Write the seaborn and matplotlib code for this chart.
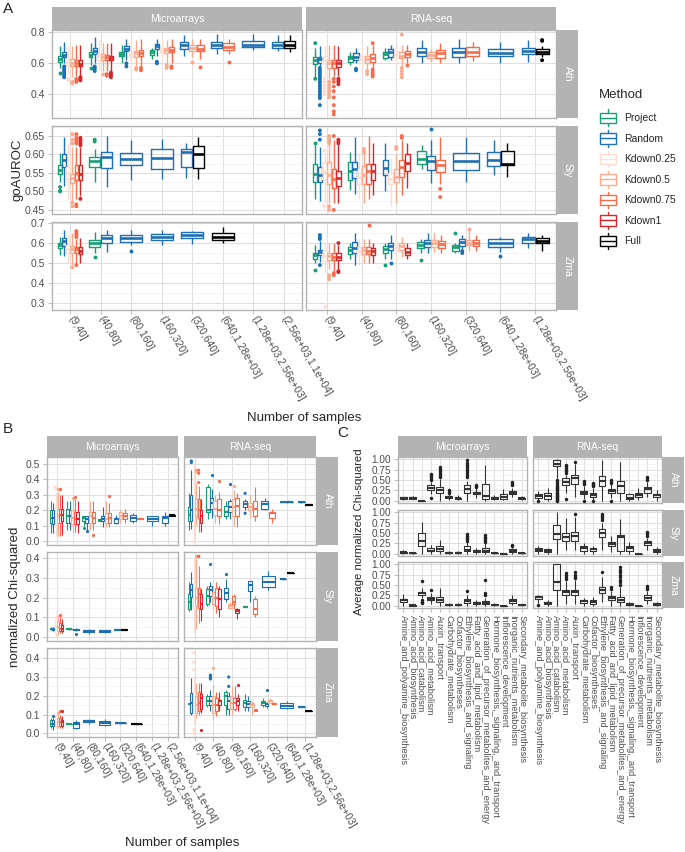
import pandas as pd
import matplotlib
matplotlib.use("Agg")
import matplotlib.pyplot as plt
import seaborn as sns
from matplotlib.lines import Line2D
from matplotlib.patches import Rectangle, Patch
from matplotlib.legend_handler import HandlerBase
from matplotlib.ticker import MultipleLocator, FormatStrFormatter

# ---------------------------------------------------------------- data
METHODS = ["Project", "Random", "Kdown0.25", "Kdown0.5", "Kdown0.75", "Kdown1", "Full"]
METHOD_COLORS = ["#169E75", "#1F6FB5", "#FDDDD0", "#FCAA8E", "#F96A4A", "#D7262B", "#000000"]
SPECIES = ["Ath", "Sly", "Zma"]
PLATFORMS = ["Microarrays", "RNA-seq"]
MICRO_BINS = ["(9,40]", "(40,80]", "(80,160]", "(160,320]", "(320,640]",
              "(640,1.28e+03]", "(1.28e+03,2.56e+03]", "(2.56e+03,1.1e+04]"]
RNA_BINS = ["(9,40]", "(40,80]", "(80,160]", "(160,320]", "(320,640]",
            "(640,1.28e+03]", "(1.28e+03,2.56e+03]"]
PATHWAYS = ["Amine_and_polyamine_biosynthesis", "Amino_acid_biosynthesis",
            "Amino_acid_catabolism", "Amino_acid_metabolism", "Auxin_transport",
            "Carbohydrate_metabolism", "Cofactor_biosyntheses",
            "Ethylene_biosynthesis_and_signaling", "Fatty_acid_and_lipid_metabolism",
            "Generation_of_precursor_metabolites_and_energy",
            "Hormone_biosynthesis,_signaling,_and_transport", "Inflorescence_development",
            "Inorganic_nutrients_metabolism", "Secondary_metabolite_biosynthesis"]

# (bin, method, whisker_low, q1, median, q3, whisker_high, outliers)
A_MICRO_ATH = [
    ("(9,40]", "Project", 0.57, 0.61, 0.625, 0.645, 0.71, [0.54]),
    ("(9,40]", "Random", 0.60, 0.64, 0.655, 0.675, 0.74, [0.58, 0.57, 0.56, 0.55, 0.54, 0.53, 0.52, 0.51]),
    ("(9,40]", "Kdown0.25", 0.53, 0.59, 0.61, 0.63, 0.71, [0.50, 0.49]),
    ("(9,40]", "Kdown0.5", 0.51, 0.585, 0.605, 0.625, 0.71, [0.48, 0.47]),
    ("(9,40]", "Kdown0.75", 0.52, 0.58, 0.60, 0.62, 0.72, [0.50, 0.49, 0.48]),
    ("(9,40]", "Kdown1", 0.52, 0.58, 0.595, 0.62, 0.72, [0.51, 0.50, 0.49]),
    ("(40,80]", "Project", 0.59, 0.64, 0.655, 0.67, 0.73, [0.57]),
    ("(40,80]", "Random", 0.60, 0.66, 0.68, 0.70, 0.77, [0.58, 0.57, 0.56, 0.55]),
    ("(40,80]", "Kdown0.25", 0.56, 0.62, 0.645, 0.66, 0.75, []),
    ("(40,80]", "Kdown0.5", 0.55, 0.62, 0.64, 0.66, 0.73, [0.53]),
    ("(40,80]", "Kdown0.75", 0.55, 0.62, 0.64, 0.655, 0.73, [0.53, 0.52]),
    ("(40,80]", "Kdown1", 0.55, 0.62, 0.635, 0.65, 0.73, [0.54, 0.53, 0.52, 0.51]),
    ("(80,160]", "Project", 0.60, 0.65, 0.66, 0.675, 0.72, []),
    ("(80,160]", "Random", 0.62, 0.68, 0.695, 0.71, 0.76, [0.60, 0.58]),
    ("(80,160]", "Kdown0.25", 0.57, 0.64, 0.66, 0.68, 0.76, []),
    ("(80,160]", "Kdown0.5", 0.58, 0.64, 0.665, 0.68, 0.75, [0.57, 0.56]),
    ("(80,160]", "Kdown0.75", 0.58, 0.645, 0.665, 0.685, 0.76, [0.57, 0.555]),
    ("(160,320]", "Project", 0.63, 0.655, 0.67, 0.685, 0.70, []),
    ("(160,320]", "Random", 0.65, 0.69, 0.71, 0.725, 0.76, [0.61, 0.60]),
    ("(160,320]", "Kdown0.25", 0.62, 0.67, 0.685, 0.70, 0.75, []),
    ("(160,320]", "Kdown0.5", 0.60, 0.665, 0.685, 0.70, 0.75, [0.59, 0.58, 0.57]),
    ("(160,320]", "Kdown0.75", 0.60, 0.67, 0.685, 0.705, 0.76, [0.58, 0.57]),
    ("(320,640]", "Random", 0.65, 0.695, 0.715, 0.735, 0.78, []),
    ("(320,640]", "Kdown0.5", 0.64, 0.68, 0.70, 0.72, 0.76, [0.61]),
    ("(320,640]", "Kdown0.75", 0.625, 0.68, 0.695, 0.72, 0.76, [0.575]),
    ("(640,1.28e+03]", "Random", 0.66, 0.70, 0.715, 0.74, 0.79, []),
    ("(640,1.28e+03]", "Kdown0.75", 0.66, 0.685, 0.705, 0.73, 0.76, [0.61]),
    ("(1.28e+03,2.56e+03]", "Random", 0.685, 0.705, 0.72, 0.745, 0.79, []),
    ("(2.56e+03,1.1e+04]", "Random", 0.68, 0.70, 0.72, 0.74, 0.78, []),
    ("(2.56e+03,1.1e+04]", "Full", 0.675, 0.70, 0.72, 0.745, 0.78, []),
]
A_MICRO_SLY = [
    ("(9,40]", "Project", 0.525, 0.548, 0.559, 0.571, 0.603, [0.512, 0.502, 0.50]),
    ("(9,40]", "Random", 0.516, 0.566, 0.585, 0.601, 0.648, []),
    ("(9,40]", "Kdown0.25", 0.48, 0.535, 0.55, 0.565, 0.63, []),
    ("(9,40]", "Kdown0.5", 0.475, 0.523, 0.536, 0.548, 0.62, [0.63, 0.64, 0.655, 0.47, 0.46]),
    ("(9,40]", "Kdown0.75", 0.48, 0.53, 0.55, 0.571, 0.62, [0.63, 0.635, 0.64, 0.645, 0.655, 0.465, 0.46]),
    ("(9,40]", "Kdown1", 0.487, 0.53, 0.548, 0.571, 0.62, [0.625, 0.63, 0.635, 0.64, 0.645, 0.48]),
    ("(40,80]", "Project", 0.525, 0.565, 0.583, 0.594, 0.616, [0.64, 0.635]),
    ("(40,80]", "Random", 0.513, 0.564, 0.594, 0.607, 0.65, []),
    ("(80,160]", "Random", 0.53, 0.571, 0.588, 0.605, 0.639, []),
    ("(160,320]", "Random", 0.535, 0.562, 0.59, 0.615, 0.641, []),
    ("(320,640]", "Random", 0.537, 0.566, 0.607, 0.615, 0.63, []),
    ("(320,640]", "Full", 0.535, 0.564, 0.60, 0.623, 0.646, []),
]
A_MICRO_ZMA = [
    ("(9,40]", "Project", 0.541, 0.574, 0.59, 0.602, 0.628, []),
    ("(9,40]", "Random", 0.533, 0.585, 0.611, 0.623, 0.667, []),
    ("(9,40]", "Kdown0.25", 0.50, 0.55, 0.57, 0.59, 0.64, []),
    ("(9,40]", "Kdown0.5", 0.49, 0.549, 0.569, 0.585, 0.65, [0.48]),
    ("(9,40]", "Kdown0.75", 0.50, 0.549, 0.569, 0.582, 0.62, [0.63, 0.64, 0.65, 0.66, 0.49]),
    ("(9,40]", "Kdown1", 0.50, 0.546, 0.562, 0.579, 0.625, []),
    ("(40,80]", "Project", 0.55, 0.579, 0.598, 0.615, 0.655, [0.528]),
    ("(40,80]", "Random", 0.553, 0.60, 0.623, 0.64, 0.667, []),
    ("(80,160]", "Random", 0.59, 0.607, 0.626, 0.64, 0.667, [0.562]),
    ("(160,320]", "Random", 0.588, 0.615, 0.631, 0.644, 0.663, []),
    ("(320,640]", "Random", 0.594, 0.623, 0.64, 0.656, 0.66, []),
    ("(640,1.28e+03]", "Full", 0.60, 0.615, 0.631, 0.648, 0.678, []),
]
A_RNA_ATH = [
    ("(9,40]", "Project", 0.514, 0.596, 0.621, 0.639, 0.697, [0.73, 0.50]),
    ("(9,40]", "Random", 0.585, 0.60, 0.628, 0.643, 0.71,
     [0.57, 0.555, 0.54, 0.525, 0.51, 0.495, 0.48, 0.465, 0.45, 0.435, 0.42, 0.405, 0.39, 0.375, 0.33]),
    ("(9,40]", "Kdown0.25", 0.52, 0.60, 0.62, 0.64, 0.72, [0.50, 0.48, 0.46, 0.44, 0.42, 0.40]),
    ("(9,40]", "Kdown0.5", 0.50, 0.572, 0.60, 0.62, 0.72, [0.48, 0.46, 0.44, 0.42, 0.40, 0.38]),
    ("(9,40]", "Kdown0.75", 0.52, 0.57, 0.60, 0.62, 0.72, [0.50, 0.48, 0.45, 0.42, 0.38, 0.33, 0.29, 0.27]),
    ("(9,40]", "Kdown1", 0.52, 0.575, 0.60, 0.62, 0.71, [0.50, 0.49, 0.48, 0.465]),
    ("(40,80]", "Project", 0.59, 0.606, 0.632, 0.65, 0.67, []),
    ("(40,80]", "Random", 0.60, 0.622, 0.643, 0.665, 0.70, [0.565, 0.555]),
    ("(40,80]", "Kdown0.25", 0.53, 0.60, 0.625, 0.65, 0.71, []),
    ("(40,80]", "Kdown0.5", 0.56, 0.605, 0.625, 0.645, 0.71, [0.55, 0.53]),
    ("(40,80]", "Kdown0.75", 0.57, 0.61, 0.635, 0.66, 0.72, [0.73, 0.56, 0.545, 0.53, 0.515]),
    ("(80,160]", "Project", 0.62, 0.636, 0.658, 0.675, 0.70, []),
    ("(80,160]", "Random", 0.62, 0.643, 0.675, 0.692, 0.72, []),
    ("(80,160]", "Kdown0.25", 0.58, 0.64, 0.66, 0.68, 0.72, []),
    ("(80,160]", "Kdown0.5", 0.58, 0.632, 0.65, 0.67, 0.72, [0.785, 0.57, 0.55, 0.53, 0.51]),
    ("(80,160]", "Kdown0.75", 0.60, 0.64, 0.66, 0.68, 0.72, [0.59]),
    ("(160,320]", "Random", 0.60, 0.647, 0.675, 0.697, 0.75, []),
    ("(160,320]", "Kdown0.5", 0.61, 0.632, 0.654, 0.675, 0.69, []),
    ("(160,320]", "Kdown0.75", 0.60, 0.632, 0.665, 0.686, 0.73, []),
    ("(320,640]", "Random", 0.60, 0.643, 0.675, 0.697, 0.76, []),
    ("(320,640]", "Kdown0.75", 0.617, 0.647, 0.675, 0.703, 0.74, []),
    ("(640,1.28e+03]", "Random", 0.604, 0.647, 0.669, 0.69, 0.74, []),
    ("(1.28e+03,2.56e+03]", "Random", 0.61, 0.66, 0.68, 0.697, 0.75, []),
    ("(1.28e+03,2.56e+03]", "Full", 0.64, 0.66, 0.675, 0.69, 0.71, [0.75, 0.745, 0.62]),
]
A_RNA_SLY = [
    ("(9,40]", "Project", 0.48, 0.525, 0.548, 0.573, 0.625, [0.63]),
    ("(9,40]", "Random", 0.475, 0.525, 0.544, 0.566, 0.62, [0.64, 0.655, 0.665]),
    ("(9,40]", "Kdown0.25", 0.47, 0.535, 0.555, 0.58, 0.60, [0.61, 0.46]),
    ("(9,40]", "Kdown0.5", 0.47, 0.52, 0.545, 0.58, 0.625, [0.63, 0.635, 0.64, 0.645, 0.65, 0.46, 0.45]),
    ("(9,40]", "Kdown0.75", 0.47, 0.51, 0.535, 0.56, 0.64, [0.65, 0.45]),
    ("(9,40]", "Kdown1", 0.47, 0.516, 0.536, 0.555, 0.625, [0.63, 0.635, 0.64]),
    ("(40,80]", "Project", 0.503, 0.53, 0.555, 0.58, 0.607, []),
    ("(40,80]", "Random", 0.494, 0.536, 0.562, 0.58, 0.646, []),
    ("(40,80]", "Kdown0.25", 0.48, 0.52, 0.54, 0.56, 0.60, []),
    ("(40,80]", "Kdown0.5", 0.47, 0.52, 0.545, 0.57, 0.60, [0.605, 0.61, 0.615]),
    ("(40,80]", "Kdown0.75", 0.48, 0.52, 0.555, 0.575, 0.65, []),
    ("(40,80]", "Kdown1", 0.49, 0.53, 0.555, 0.575, 0.63, []),
    ("(80,160]", "Random", 0.50, 0.544, 0.564, 0.585, 0.632, []),
    ("(80,160]", "Kdown0.25", 0.46, 0.52, 0.535, 0.55, 0.59, []),
    ("(80,160]", "Kdown0.5", 0.47, 0.525, 0.54, 0.56, 0.60, [0.615, 0.62]),
    ("(80,160]", "Kdown0.75", 0.49, 0.54, 0.565, 0.585, 0.64, [0.65, 0.645]),
    ("(80,160]", "Kdown1", 0.51, 0.555, 0.578, 0.60, 0.63, []),
    ("(160,320]", "Project", 0.56, 0.575, 0.589, 0.61, 0.625, []),
    ("(160,320]", "Random", 0.523, 0.557, 0.582, 0.596, 0.64, [0.668]),
    ("(160,320]", "Kdown0.75", 0.52, 0.553, 0.571, 0.586, 0.648, [0.507, 0.485]),
    ("(320,640]", "Random", 0.525, 0.559, 0.582, 0.603, 0.648, []),
    ("(640,1.28e+03]", "Random", 0.544, 0.569, 0.585, 0.607, 0.639, []),
    ("(640,1.28e+03]", "Full", 0.539, 0.571, 0.574, 0.609, 0.632, []),
]
A_RNA_ZMA = [
    ("(9,40]", "Project", 0.50, 0.521, 0.538, 0.549, 0.59, [0.467]),
    ("(9,40]", "Random", 0.505, 0.538, 0.554, 0.566, 0.61, [0.62, 0.63, 0.64, 0.49]),
    ("(9,40]", "Kdown0.25", 0.45, 0.51, 0.535, 0.56, 0.60, [0.287]),
    ("(9,40]", "Kdown0.5", 0.47, 0.515, 0.535, 0.55, 0.60, [0.44, 0.43, 0.42]),
    ("(9,40]", "Kdown0.75", 0.46, 0.515, 0.53, 0.55, 0.60, [0.45, 0.44]),
    ("(9,40]", "Kdown1", 0.47, 0.515, 0.53, 0.548, 0.59, [0.46, 0.455, 0.60]),
    ("(40,80]", "Project", 0.52, 0.544, 0.566, 0.582, 0.60, []),
    ("(40,80]", "Random", 0.492, 0.549, 0.574, 0.607, 0.648, []),
    ("(40,80]", "Kdown0.25", 0.49, 0.54, 0.56, 0.58, 0.62, []),
    ("(40,80]", "Kdown0.5", 0.50, 0.545, 0.565, 0.58, 0.62, []),
    ("(40,80]", "Kdown0.75", 0.50, 0.545, 0.56, 0.58, 0.62, [0.689]),
    ("(40,80]", "Kdown1", 0.50, 0.54, 0.558, 0.575, 0.60, []),
    ("(80,160]", "Project", 0.52, 0.549, 0.569, 0.585, 0.60, [0.49]),
    ("(80,160]", "Random", 0.52, 0.566, 0.587, 0.60, 0.64, [0.50]),
    ("(80,160]", "Kdown0.25", 0.51, 0.56, 0.575, 0.59, 0.62, []),
    ("(80,160]", "Kdown0.5", 0.53, 0.565, 0.585, 0.60, 0.63, []),
    ("(80,160]", "Kdown1", 0.52, 0.541, 0.557, 0.574, 0.60, []),
    ("(160,320]", "Project", 0.55, 0.574, 0.59, 0.607, 0.62, [0.516]),
    ("(160,320]", "Random", 0.55, 0.582, 0.598, 0.615, 0.65, []),
    ("(160,320]", "Kdown0.5", 0.555, 0.58, 0.60, 0.615, 0.65, []),
    ("(160,320]", "Kdown0.75", 0.55, 0.575, 0.595, 0.61, 0.64, []),
    ("(320,640]", "Project", 0.55, 0.562, 0.579, 0.59, 0.60, [0.648]),
    ("(320,640]", "Random", 0.57, 0.585, 0.607, 0.618, 0.64, [0.56, 0.55]),
    ("(320,640]", "Kdown0.5", 0.56, 0.59, 0.60, 0.615, 0.66, [0.67]),
    ("(320,640]", "Kdown0.75", 0.56, 0.585, 0.60, 0.615, 0.64, []),
    ("(640,1.28e+03]", "Random", 0.557, 0.582, 0.602, 0.618, 0.631, [0.536]),
    ("(1.28e+03,2.56e+03]", "Random", 0.574, 0.598, 0.618, 0.628, 0.648, []),
    ("(1.28e+03,2.56e+03]", "Full", 0.562, 0.598, 0.611, 0.623, 0.639, []),
]

B_MICRO_ATH = [
    ("(9,40]", "Project", 0.05, 0.12, 0.15, 0.20, 0.26, []),
    ("(9,40]", "Random", 0.05, 0.11, 0.15, 0.20, 0.25, []),
    ("(9,40]", "Kdown0.25", 0.03, 0.12, 0.17, 0.22, 0.32, [0.34, 0.35]),
    ("(9,40]", "Kdown0.5", 0.03, 0.12, 0.16, 0.21, 0.32, [0.34]),
    ("(9,40]", "Kdown0.75", 0.03, 0.12, 0.17, 0.21, 0.30, [0.34]),
    ("(9,40]", "Kdown1", 0.04, 0.13, 0.17, 0.21, 0.30, []),
    ("(40,80]", "Project", 0.07, 0.12, 0.16, 0.21, 0.26, []),
    ("(40,80]", "Random", 0.07, 0.12, 0.16, 0.20, 0.26, []),
    ("(40,80]", "Kdown0.5", 0.05, 0.11, 0.15, 0.20, 0.27, [0.28]),
    ("(40,80]", "Kdown0.75", 0.06, 0.11, 0.14, 0.19, 0.27, [0.285]),
    ("(40,80]", "Kdown1", 0.05, 0.11, 0.14, 0.19, 0.26, []),
    ("(80,160]", "Project", 0.10, 0.13, 0.15, 0.16, 0.16, [0.085]),
    ("(80,160]", "Random", 0.07, 0.12, 0.14, 0.16, 0.16, [0.065]),
    ("(80,160]", "Kdown0.5", 0.07, 0.12, 0.16, 0.19, 0.26, []),
    ("(80,160]", "Kdown0.75", 0.07, 0.12, 0.15, 0.19, 0.26, [0.04]),
    ("(160,320]", "Project", 0.13, 0.13, 0.135, 0.14, 0.14, []),
    ("(160,320]", "Random", 0.09, 0.13, 0.14, 0.16, 0.22, []),
    ("(160,320]", "Kdown0.5", 0.09, 0.12, 0.14, 0.18, 0.26, []),
    ("(160,320]", "Kdown0.75", 0.09, 0.12, 0.15, 0.18, 0.25, [0.29]),
    ("(320,640]", "Random", 0.11, 0.12, 0.14, 0.15, 0.17, []),
    ("(320,640]", "Kdown0.5", 0.12, 0.14, 0.16, 0.19, 0.20, []),
    ("(320,640]", "Kdown0.75", 0.12, 0.14, 0.16, 0.18, 0.21, []),
    ("(640,1.28e+03]", "Random", 0.12, 0.13, 0.15, 0.17, 0.18, []),
    ("(640,1.28e+03]", "Kdown0.75", 0.14, 0.14, 0.145, 0.15, 0.15, []),
    ("(1.28e+03,2.56e+03]", "Random", 0.10, 0.13, 0.14, 0.16, 0.16, []),
    ("(2.56e+03,1.1e+04]", "Random", 0.10, 0.12, 0.15, 0.16, 0.19, []),
    ("(2.56e+03,1.1e+04]", "Full", 0.165, 0.165, 0.168, 0.17, 0.17, []),
]
B_MICRO_SLY = [
    ("(9,40]", "Project", 0.035, 0.04, 0.042, 0.045, 0.05, []),
    ("(9,40]", "Random", 0.03, 0.035, 0.04, 0.045, 0.05, []),
    ("(9,40]", "Kdown0.25", 0.0, 0.02, 0.05, 0.09, 0.11, []),
    ("(9,40]", "Kdown0.5", 0.01, 0.03, 0.05, 0.08, 0.11, []),
    ("(9,40]", "Kdown0.75", 0.02, 0.03, 0.04, 0.07, 0.10, [0.11]),
    ("(9,40]", "Kdown1", 0.02, 0.03, 0.04, 0.06, 0.09, []),
    ("(40,80]", "Project", 0.038, 0.039, 0.04, 0.041, 0.042, []),
    ("(40,80]", "Random", 0.03, 0.035, 0.038, 0.042, 0.045, [0.015]),
    ("(80,160]", "Random", 0.015, 0.025, 0.03, 0.035, 0.04, []),
    ("(160,320]", "Random", 0.02, 0.025, 0.03, 0.035, 0.038, []),
    ("(320,640]", "Random", 0.036, 0.037, 0.038, 0.04, 0.04, []),
    ("(320,640]", "Full", 0.036, 0.037, 0.038, 0.039, 0.04, []),
]
B_MICRO_ZMA = [
    ("(9,40]", "Project", 0.03, 0.04, 0.05, 0.07, 0.08, []),
    ("(9,40]", "Random", 0.02, 0.04, 0.05, 0.07, 0.08, [0.09]),
    ("(9,40]", "Kdown0.25", 0.03, 0.04, 0.06, 0.09, 0.10, []),
    ("(9,40]", "Kdown0.5", 0.03, 0.04, 0.06, 0.08, 0.10, [0.11]),
    ("(9,40]", "Kdown0.75", 0.03, 0.04, 0.06, 0.08, 0.10, [0.12]),
    ("(9,40]", "Kdown1", 0.03, 0.04, 0.06, 0.07, 0.09, [0.12]),
    ("(40,80]", "Project", 0.049, 0.05, 0.051, 0.052, 0.053, []),
    ("(40,80]", "Random", 0.025, 0.03, 0.05, 0.06, 0.07, []),
    ("(80,160]", "Random", 0.05, 0.06, 0.065, 0.07, 0.075, []),
    ("(160,320]", "Random", 0.04, 0.045, 0.055, 0.065, 0.075, []),
    ("(320,640]", "Random", 0.052, 0.053, 0.054, 0.055, 0.055, []),
    ("(640,1.28e+03]", "Full", 0.049, 0.05, 0.05, 0.051, 0.052, []),
]
B_RNA_ATH = [
    ("(9,40]", "Project", 0.07, 0.13, 0.17, 0.22, 0.31, []),
    ("(9,40]", "Random", 0.08, 0.13, 0.20, 0.30, 0.46, [0.51, 0.52]),
    ("(9,40]", "Kdown0.25", 0.02, 0.15, 0.21, 0.30, 0.50, [0.0]),
    ("(9,40]", "Kdown0.5", 0.10, 0.16, 0.21, 0.28, 0.38, [0.45, 0.46]),
    ("(9,40]", "Kdown0.75", 0.06, 0.15, 0.20, 0.27, 0.36, [0.38, 0.44, 0.46]),
    ("(9,40]", "Kdown1", 0.06, 0.12, 0.16, 0.20, 0.27, []),
    ("(40,80]", "Project", 0.14, 0.19, 0.20, 0.35, 0.37, []),
    ("(40,80]", "Random", 0.15, 0.21, 0.25, 0.28, 0.34, [0.43]),
    ("(40,80]", "Kdown0.5", 0.12, 0.17, 0.21, 0.26, 0.30, []),
    ("(40,80]", "Kdown0.75", 0.11, 0.16, 0.20, 0.27, 0.32, [0.39]),
    ("(80,160]", "Project", 0.14, 0.16, 0.19, 0.23, 0.26, []),
    ("(80,160]", "Random", 0.14, 0.19, 0.22, 0.26, 0.27, [0.37]),
    ("(80,160]", "Kdown0.5", 0.10, 0.16, 0.22, 0.27, 0.33, [0.36]),
    ("(80,160]", "Kdown0.75", 0.09, 0.16, 0.23, 0.28, 0.31, []),
    ("(160,320]", "Random", 0.20, 0.22, 0.24, 0.26, 0.27, [0.31, 0.18]),
    ("(160,320]", "Kdown0.5", 0.15, 0.20, 0.22, 0.25, 0.30, []),
    ("(160,320]", "Kdown0.75", 0.13, 0.16, 0.21, 0.26, 0.35, []),
    ("(320,640]", "Random", 0.20, 0.21, 0.24, 0.26, 0.28, []),
    ("(320,640]", "Kdown0.75", 0.12, 0.15, 0.18, 0.19, 0.21, []),
    ("(640,1.28e+03]", "Random", 0.25, 0.252, 0.253, 0.255, 0.256, []),
    ("(1.28e+03,2.56e+03]", "Random", 0.25, 0.252, 0.253, 0.255, 0.256, []),
    ("(1.28e+03,2.56e+03]", "Full", 0.235, 0.236, 0.237, 0.239, 0.24, []),
]
B_RNA_SLY = [
    ("(9,40]", "Project", 0.13, 0.145, 0.18, 0.22, 0.28, []),
    ("(9,40]", "Random", 0.137, 0.203, 0.237, 0.27, 0.33, []),
    ("(9,40]", "Kdown0.25", 0.02, 0.14, 0.20, 0.28, 0.40, []),
    ("(9,40]", "Kdown0.5", 0.04, 0.16, 0.20, 0.25, 0.40, [0.41]),
    ("(9,40]", "Kdown0.75", 0.07, 0.15, 0.22, 0.25, 0.36, [0.41, 0.41]),
    ("(9,40]", "Kdown1", 0.082, 0.145, 0.17, 0.22, 0.245, []),
    ("(40,80]", "Project", 0.16, 0.17, 0.21, 0.245, 0.26, []),
    ("(40,80]", "Random", 0.18, 0.208, 0.237, 0.26, 0.28, [0.37]),
    ("(40,80]", "Kdown0.5", 0.14, 0.17, 0.20, 0.23, 0.26, []),
    ("(40,80]", "Kdown0.75", 0.12, 0.16, 0.20, 0.25, 0.28, []),
    ("(40,80]", "Kdown1", 0.10, 0.145, 0.195, 0.245, 0.26, []),
    ("(80,160]", "Random", 0.18, 0.195, 0.223, 0.248, 0.295, [0.32]),
    ("(80,160]", "Kdown0.5", 0.14, 0.15, 0.16, 0.17, 0.18, []),
    ("(80,160]", "Kdown0.75", 0.14, 0.17, 0.18, 0.21, 0.22, []),
    ("(80,160]", "Kdown1", 0.09, 0.12, 0.13, 0.14, 0.15, []),
    ("(160,320]", "Project", 0.154, 0.155, 0.155, 0.156, 0.157, []),
    ("(160,320]", "Random", 0.18, 0.233, 0.262, 0.283, 0.283, []),
    ("(160,320]", "Kdown0.75", 0.10, 0.115, 0.145, 0.195, 0.208, []),
    ("(320,640]", "Random", 0.237, 0.253, 0.282, 0.312, 0.333, []),
    ("(640,1.28e+03]", "Random", 0.292, 0.293, 0.293, 0.294, 0.295, []),
    ("(640,1.28e+03]", "Full", 0.324, 0.325, 0.325, 0.326, 0.327, []),
]
B_RNA_ZMA = [
    ("(9,40]", "Project", 0.155, 0.156, 0.157, 0.158, 0.16, []),
    ("(9,40]", "Random", 0.098, 0.107, 0.16, 0.214, 0.295, []),
    ("(9,40]", "Kdown0.25", 0.05, 0.10, 0.16, 0.22, 0.30, [0.43, 0.38, 0.34, 0.02, 0.0]),
    ("(9,40]", "Kdown0.5", 0.08, 0.11, 0.15, 0.20, 0.27, []),
    ("(9,40]", "Kdown0.75", 0.10, 0.12, 0.16, 0.22, 0.27, []),
    ("(9,40]", "Kdown1", 0.11, 0.13, 0.19, 0.21, 0.27, [0.02]),
    ("(40,80]", "Project", 0.14, 0.15, 0.17, 0.20, 0.21, []),
    ("(40,80]", "Random", 0.12, 0.15, 0.17, 0.20, 0.23, [0.29, 0.30, 0.31]),
    ("(40,80]", "Kdown0.5", 0.07, 0.11, 0.15, 0.20, 0.26, [0.35]),
    ("(40,80]", "Kdown0.75", 0.09, 0.12, 0.15, 0.19, 0.22, []),
    ("(40,80]", "Kdown1", 0.12, 0.15, 0.17, 0.18, 0.22, []),
    ("(80,160]", "Project", 0.10, 0.15, 0.20, 0.22, 0.23, []),
    ("(80,160]", "Random", 0.10, 0.13, 0.17, 0.20, 0.22, [0.25, 0.30]),
    ("(80,160]", "Kdown0.5", 0.10, 0.13, 0.16, 0.20, 0.25, []),
    ("(80,160]", "Kdown0.75", 0.12, 0.13, 0.16, 0.19, 0.25, []),
    ("(80,160]", "Kdown1", 0.12, 0.15, 0.17, 0.19, 0.21, [0.26]),
    ("(160,320]", "Project", 0.12, 0.14, 0.16, 0.18, 0.21, []),
    ("(160,320]", "Random", 0.12, 0.14, 0.155, 0.17, 0.20, []),
    ("(160,320]", "Kdown0.5", 0.10, 0.14, 0.15, 0.16, 0.17, []),
    ("(160,320]", "Kdown0.75", 0.12, 0.12, 0.125, 0.13, 0.13, []),
    ("(320,640]", "Project", 0.14, 0.15, 0.16, 0.17, 0.19, []),
    ("(320,640]", "Random", 0.135, 0.145, 0.155, 0.16, 0.165, [0.23]),
    ("(320,640]", "Kdown0.5", 0.155, 0.16, 0.17, 0.18, 0.19, []),
    ("(320,640]", "Kdown0.75", 0.155, 0.156, 0.157, 0.159, 0.16, []),
    ("(640,1.28e+03]", "Random", 0.13, 0.135, 0.145, 0.16, 0.17, []),
    ("(1.28e+03,2.56e+03]", "Random", 0.139, 0.14, 0.14, 0.141, 0.142, []),
    ("(1.28e+03,2.56e+03]", "Full", 0.119, 0.12, 0.12, 0.121, 0.122, []),
]

# (pathway, whisker_low, q1, median, q3, whisker_high, outliers)
C_MICRO_ATH = [
    (PATHWAYS[0], 0.03, 0.04, 0.06, 0.09, 0.10, []),
    (PATHWAYS[1], 0.04, 0.05, 0.07, 0.09, 0.11, []),
    (PATHWAYS[2], 0.0, 0.002, 0.005, 0.008, 0.012, []),
    (PATHWAYS[3], 0.16, 0.25, 0.32, 0.37, 0.46, [0.49, 0.53, 0.57, 0.61, 0.65, 0.08]),
    (PATHWAYS[4], 0.0, 0.18, 0.27, 0.33, 0.52, [0.56, 0.61, 0.66, 0.71, 0.76, 0.81]),
    (PATHWAYS[5], 0.02, 0.08, 0.10, 0.12, 0.18, [0.20, 0.22, 0.25]),
    (PATHWAYS[6], 0.02, 0.05, 0.07, 0.08, 0.13, []),
    (PATHWAYS[7], 0.0, 0.18, 0.29, 0.37, 0.48, [0.56, 0.61, 0.66, 0.71, 0.76, 0.81, 0.86, 0.91, 0.97]),
    (PATHWAYS[8], 0.08, 0.16, 0.19, 0.22, 0.30, [0.33, 0.35, 0.38]),
    (PATHWAYS[9], 0.0, 0.04, 0.12, 0.41, 0.85, []),
    (PATHWAYS[10], 0.02, 0.05, 0.07, 0.10, 0.14, []),
    (PATHWAYS[11], 0.02, 0.04, 0.10, 0.16, 0.28, []),
    (PATHWAYS[12], 0.10, 0.17, 0.20, 0.24, 0.32, [0.37, 0.41, 0.46]),
    (PATHWAYS[13], 0.02, 0.04, 0.06, 0.08, 0.12, []),
]
C_RNA_ATH = [
    (PATHWAYS[0], 0.02, 0.08, 0.12, 0.16, 0.24, [0.0]),
    (PATHWAYS[1], 0.0, 0.04, 0.12, 0.20, 0.30, []),
    (PATHWAYS[2], 0.55, 0.83, 0.89, 0.99, 1.0,
     [0.0, 0.025, 0.05, 0.075, 0.1, 0.125, 0.15, 0.175, 0.2, 0.225, 0.25, 0.275, 0.3, 0.33, 0.36, 0.4, 0.45, 0.5]),
    (PATHWAYS[3], 0.2, 0.38, 0.45, 0.54, 0.63, [0.67, 0.71, 0.75, 0.79, 0.83, 0.87, 0.05]),
    (PATHWAYS[4], 0.1, 0.41, 0.54, 0.63, 0.88, [0.93]),
    (PATHWAYS[5], 0.04, 0.16, 0.20, 0.24, 0.35, [0.40, 0.44, 0.48, 0.0]),
    (PATHWAYS[6], 0.02, 0.10, 0.15, 0.20, 0.32, [0.35, 0.38, 0.41, 0.44, 0.0]),
    (PATHWAYS[7], 0.0, 0.36, 0.48, 0.60, 0.99, []),
    (PATHWAYS[8], 0.06, 0.20, 0.24, 0.28, 0.40, [0.42, 0.46, 0.50, 0.0]),
    (PATHWAYS[9], 0.0, 0.20, 0.36, 0.48, 0.92, []),
    (PATHWAYS[10], 0.0, 0.04, 0.08, 0.16, 0.20, []),
    (PATHWAYS[11], 0.03, 0.10, 0.14, 0.20, 0.30, []),
    (PATHWAYS[12], 0.10, 0.20, 0.28, 0.33, 0.45, [0.50, 0.54, 0.58]),
    (PATHWAYS[13], 0.0, 0.10, 0.13, 0.16, 0.27, []),
]
C_MICRO_SLY = [
    (PATHWAYS[0], 0.0, 0.03, 0.04, 0.055, 0.09, []),
    (PATHWAYS[1], 0.0, 0.01, 0.02, 0.03, 0.04, []),
    (PATHWAYS[2], 0.0, 0.20, 0.32, 0.50, 0.76, []),
    (PATHWAYS[3], 0.0, 0.06, 0.08, 0.14, 0.22, []),
    (PATHWAYS[4], 0.0, 0.07, 0.12, 0.18, 0.33, []),
    (PATHWAYS[5], 0.0, 0.01, 0.02, 0.04, 0.06, []),
    (PATHWAYS[6], 0.0, 0.01, 0.02, 0.04, 0.06, []),
    (PATHWAYS[7], 0.0, 0.06, 0.10, 0.20, 0.28, [0.32, 0.36, 0.40, 0.44, 0.48]),
    (PATHWAYS[8], 0.0, 0.04, 0.07, 0.10, 0.15, []),
    (PATHWAYS[9], 0.0, 0.04, 0.08, 0.14, 0.25, [0.29, 0.33, 0.37, 0.41, 0.45]),
    (PATHWAYS[10], 0.0, 0.01, 0.02, 0.03, 0.05, []),
    (PATHWAYS[11], 0.0, 0.0, 0.003, 0.006, 0.01, []),
    (PATHWAYS[12], 0.0, 0.05, 0.08, 0.11, 0.15, [0.20, 0.22]),
    (PATHWAYS[13], 0.0, 0.01, 0.02, 0.03, 0.05, []),
]
C_RNA_SLY = [
    (PATHWAYS[0], 0.0, 0.06, 0.10, 0.14, 0.20, []),
    (PATHWAYS[1], 0.0, 0.05, 0.08, 0.12, 0.14, []),
    (PATHWAYS[2], 0.0, 0.36, 0.48, 0.70, 1.0, []),
    (PATHWAYS[3], 0.1, 0.32, 0.40, 0.50, 0.85, []),
    (PATHWAYS[4], 0.1, 0.32, 0.42, 0.52, 0.88, [0.95]),
    (PATHWAYS[5], 0.0, 0.08, 0.13, 0.18, 0.25, []),
    (PATHWAYS[6], 0.0, 0.08, 0.11, 0.14, 0.20, []),
    (PATHWAYS[7], 0.1, 0.40, 0.50, 0.60, 0.75, [0.80, 0.85, 0.90, 0.95]),
    (PATHWAYS[8], 0.05, 0.18, 0.23, 0.28, 0.42, []),
    (PATHWAYS[9], 0.0, 0.07, 0.40, 0.45, 0.83, []),
    (PATHWAYS[10], 0.0, 0.08, 0.14, 0.18, 0.28, []),
    (PATHWAYS[11], 0.0, 0.0, 0.003, 0.006, 0.01, []),
    (PATHWAYS[12], 0.10, 0.22, 0.25, 0.30, 0.38, [0.44, 0.48, 0.52]),
    (PATHWAYS[13], 0.0, 0.05, 0.08, 0.12, 0.17, []),
]
C_MICRO_ZMA = [
    (PATHWAYS[0], 0.0, 0.09, 0.13, 0.17, 0.29, []),
    (PATHWAYS[1], 0.0, 0.005, 0.01, 0.02, 0.03, []),
    (PATHWAYS[2], 0.18, 0.26, 0.30, 0.33, 0.43, [0.60, 0.14, 0.10, 0.06]),
    (PATHWAYS[3], 0.05, 0.13, 0.17, 0.21, 0.30, [0.38]),
    (PATHWAYS[4], 0.0, 0.09, 0.15, 0.21, 0.42, []),
    (PATHWAYS[5], 0.0, 0.02, 0.03, 0.05, 0.07, []),
    (PATHWAYS[6], 0.0, 0.01, 0.02, 0.04, 0.06, []),
    (PATHWAYS[7], 0.0, 0.08, 0.12, 0.17, 0.25, [0.35]),
    (PATHWAYS[8], 0.0, 0.05, 0.07, 0.10, 0.13, []),
    (PATHWAYS[9], 0.0, 0.04, 0.06, 0.11, 0.20, [0.25, 0.30, 0.63]),
    (PATHWAYS[10], 0.0, 0.01, 0.03, 0.05, 0.07, []),
    (PATHWAYS[11], 0.0, 0.0, 0.003, 0.006, 0.01, []),
    (PATHWAYS[12], 0.02, 0.08, 0.12, 0.16, 0.27, []),
    (PATHWAYS[13], 0.0, 0.01, 0.02, 0.04, 0.05, []),
]
C_RNA_ZMA = [
    (PATHWAYS[0], 0.08, 0.17, 0.21, 0.23, 0.25, [0.02]),
    (PATHWAYS[1], 0.0, 0.04, 0.07, 0.10, 0.13, []),
    (PATHWAYS[2], 0.0, 0.37, 0.57, 1.0, 1.0, []),
    (PATHWAYS[3], 0.05, 0.25, 0.33, 0.37, 0.60, [0.65, 0.69, 0.73, 0.78]),
    (PATHWAYS[4], 0.05, 0.25, 0.33, 0.39, 0.62, [0.66, 0.70, 0.75, 0.80]),
    (PATHWAYS[5], 0.0, 0.07, 0.11, 0.15, 0.20, []),
    (PATHWAYS[6], 0.0, 0.05, 0.09, 0.15, 0.22, []),
    (PATHWAYS[7], 0.1, 0.30, 0.38, 0.46, 0.70, [0.82]),
    (PATHWAYS[8], 0.0, 0.14, 0.18, 0.24, 0.35, [0.40, 0.45]),
    (PATHWAYS[9], 0.0, 0.09, 0.15, 0.22, 0.45, [0.50, 0.56, 0.62, 0.68, 0.74, 0.80, 0.86, 0.92]),
    (PATHWAYS[10], 0.0, 0.03, 0.05, 0.08, 0.10, []),
    (PATHWAYS[11], 0.0, 0.0, 0.003, 0.006, 0.01, []),
    (PATHWAYS[12], 0.05, 0.13, 0.19, 0.25, 0.35, [0.40, 0.44, 0.48]),
    (PATHWAYS[13], 0.0, 0.02, 0.05, 0.08, 0.10, []),
]

# ---------------------------------------------------------------- style
W, H = 685, 852
sns.set_theme(style="white")
plt.rcParams["font.family"] = ["Liberation Sans", "DejaVu Sans"]
PALETTE = dict(zip(METHODS, METHOD_COLORS))
STRIP_FILL = "#B3B3B3"
BORDER = "#B3B3B3"
GRID = "#DEDEDE"
GRID_MINOR = "#EEEEEE"
TXT = "#4D4D4D"

fig = plt.figure(figsize=(W / 100, H / 100), dpi=100)
fig.patch.set_facecolor("white")


def px_axes(x0, y0, x1, y1):
    return fig.add_axes([x0 / W, 1 - y1 / H, (x1 - x0) / W, (y1 - y0) / H])


def strip(x0, y0, x1, y1, text, rot=0, size=7.5):
    a = px_axes(x0, y0, x1, y1)
    a.set_facecolor(STRIP_FILL)
    a.set_xticks([])
    a.set_yticks([])
    for s in a.spines.values():
        s.set_visible(False)
    a.text(0.5, 0.5, text, rotation=rot, ha="center", va="center", color="white",
           fontsize=size, transform=a.transAxes)


def draw_method_panel(ax, rows, bins, lw, dot):
    for i, b in enumerate(bins):
        sub = [r for r in rows if r[0] == b]
        if not sub:
            continue
        present = [m for m in METHODS if any(r[1] == m for r in sub)]
        boxes = pd.DataFrame([(i, r[1], v) for r in sub for v in r[2:7]],
                             columns=["x", "Method", "value"])
        sns.boxplot(data=boxes, x="x", y="value", hue="Method", hue_order=present,
                    palette=PALETTE, saturation=1, native_scale=True, fill=False,
                    whis=(0, 100), showcaps=False, width=0.8, gap=0.08, linewidth=lw,
                    medianprops={"linewidth": lw * 1.9}, legend=False, ax=ax)
        outs = [(i, r[1], v) for r in sub for v in r[7]]
        if outs:
            sns.stripplot(data=pd.DataFrame(outs, columns=["x", "Method", "value"]),
                          x="x", y="value", hue="Method", hue_order=present,
                          palette=PALETTE, native_scale=True, dodge=True, jitter=False,
                          size=dot, linewidth=0, legend=False, ax=ax)


def draw_pathway_panel(ax, rows, lw, dot):
    boxes = pd.DataFrame([(PATHWAYS.index(r[0]), v) for r in rows for v in r[1:6]],
                         columns=["x", "value"])
    sns.boxplot(data=boxes, x="x", y="value", color="#333333", saturation=1,
                native_scale=True, fill=False, whis=(0, 100), showcaps=False,
                width=0.75, linewidth=lw, medianprops={"linewidth": lw * 1.9}, ax=ax)
    outs = [(PATHWAYS.index(r[0]), v) for r in rows for v in r[6]]
    if outs:
        sns.stripplot(data=pd.DataFrame(outs, columns=["x", "value"]), x="x", y="value",
                      color="#222222", native_scale=True, jitter=False, size=dot,
                      linewidth=0, ax=ax)


def style(ax, n, ylim, major, minor, fmt, left, bottom, xlabels, xrot, xsize, ysize):
    ax.set_xlim(-0.6, n - 0.4)
    ax.set_ylim(*ylim)
    ax.set_xticks(range(n))
    ax.yaxis.set_major_locator(MultipleLocator(major))
    ax.yaxis.set_minor_locator(MultipleLocator(minor))
    ax.yaxis.set_major_formatter(FormatStrFormatter(fmt))
    ax.set_xlabel("")
    ax.set_ylabel("")
    ax.set_facecolor("white")
    ax.grid(True, which="minor", axis="y", color=GRID_MINOR, linewidth=0.4)
    ax.grid(True, which="major", color=GRID, linewidth=0.7)
    ax.set_axisbelow(True)
    for s in ax.spines.values():
        s.set_visible(True)
        s.set_edgecolor(BORDER)
        s.set_linewidth(1.0)
    ax.tick_params(which="minor", length=0, left=False, bottom=False)
    ax.tick_params(which="major", length=3, width=0.6, color=BORDER, labelcolor=TXT,
                   pad=2, left=left, labelleft=left, bottom=bottom, labelbottom=bottom,
                   labelsize=ysize)
    if bottom:
        ax.set_xticklabels(xlabels, rotation=xrot, ha="left", va="center",
                           rotation_mode="anchor", fontsize=xsize, color=TXT)


# ---------------------------------------------------------------- panel A
A_DATA = {("Microarrays", "Ath"): A_MICRO_ATH, ("Microarrays", "Sly"): A_MICRO_SLY,
          ("Microarrays", "Zma"): A_MICRO_ZMA, ("RNA-seq", "Ath"): A_RNA_ATH,
          ("RNA-seq", "Sly"): A_RNA_SLY, ("RNA-seq", "Zma"): A_RNA_ZMA}
A_COLS = {"Microarrays": (52, 302), "RNA-seq": (306, 556)}
A_ROWS = {"Ath": (30, 118), "Sly": (126, 214), "Zma": (222, 310)}
A_Y = {"Ath": ((0.247, 0.815), 0.2, 0.1, "%.1f"),
       "Sly": ((0.439, 0.677), 0.05, 0.025, "%.2f"),
       "Zma": ((0.266, 0.705), 0.1, 0.05, "%.1f")}
for plat in PLATFORMS:
    bins = MICRO_BINS if plat == "Microarrays" else RNA_BINS
    x0, x1 = A_COLS[plat]
    strip(x0, 7, x1, 30, plat)
    for sp in SPECIES:
        y0, y1 = A_ROWS[sp]
        ax = px_axes(x0, y0, x1, y1)
        draw_method_panel(ax, A_DATA[(plat, sp)], bins, lw=1.0, dot=2.8)
        ylim, mj, mn, fmt = A_Y[sp]
        style(ax, len(bins), ylim, mj, mn, fmt, left=(plat == "Microarrays"),
              bottom=(sp == "Zma"), xlabels=bins, xrot=-60, xsize=7.5, ysize=7.5)
for sp in SPECIES:
    y0, y1 = A_ROWS[sp]
    strip(557, y0, 578, y1, sp, rot=-90)
fig.text(3 / W, 1 - 9 / H, "A", fontsize=11, ha="left", va="center")
fig.text(17 / W, 1 - 170 / H, "goAUROC", rotation=90, ha="center", va="center", fontsize=9.5)
fig.text(304 / W, 1 - 418 / H, "Number of samples", ha="center", va="center", fontsize=9.5)


# legend with boxplot-shaped keys
class BoxKey(HandlerBase):
    def create_artists(self, legend, orig_handle, xdescent, ydescent, width, height,
                       fontsize, trans):
        c = orig_handle.get_edgecolor()
        x0, y0 = -xdescent, -ydescent
        arts = [
            Line2D([x0 + width / 2] * 2, [y0, y0 + height], color=c, lw=1.0),
            Rectangle((x0 + 0.04 * width, y0 + 0.19 * height), 0.92 * width, 0.62 * height,
                      facecolor="white", edgecolor=c, lw=1.0),
            Line2D([x0 + 0.04 * width, x0 + 0.96 * width], [y0 + height / 2] * 2, color=c, lw=1.0),
        ]
        for a in arts:
            a.set_transform(trans)
        return arts


fig.text(599 / W, 1 - 95 / H, "Method", ha="left", va="center", fontsize=9.5)
handles = [Patch(facecolor="white", edgecolor=PALETTE[m]) for m in METHODS]
leg = fig.legend(handles, METHODS, handler_map={Patch: BoxKey()}, loc="upper left",
                 bbox_to_anchor=(599 / W, 1 - 109.5 / H), frameon=False,
                 fontsize=7.5, handlelength=1.65, handleheight=2.1,
                 labelspacing=0.36, handletextpad=0.75, borderpad=0, borderaxespad=0)

# ---------------------------------------------------------------- panel B
B_DATA = {("Microarrays", "Ath"): B_MICRO_ATH, ("Microarrays", "Sly"): B_MICRO_SLY,
          ("Microarrays", "Zma"): B_MICRO_ZMA, ("RNA-seq", "Ath"): B_RNA_ATH,
          ("RNA-seq", "Sly"): B_RNA_SLY, ("RNA-seq", "Zma"): B_RNA_ZMA}
B_COLS = {"Microarrays": (47, 178), "RNA-seq": (184, 316)}
B_ROWS = {"Ath": (457, 545), "Sly": (552, 641), "Zma": (648, 737)}
B_Y = {"Ath": (-0.026, 0.546), "Sly": (-0.02, 0.432), "Zma": (-0.02, 0.455)}
for plat in PLATFORMS:
    bins = MICRO_BINS if plat == "Microarrays" else RNA_BINS
    x0, x1 = B_COLS[plat]
    strip(x0, 436, x1, 457, plat)
    for sp in SPECIES:
        y0, y1 = B_ROWS[sp]
        ax = px_axes(x0, y0, x1, y1)
        draw_method_panel(ax, B_DATA[(plat, sp)], bins, lw=0.8, dot=2.3)
        style(ax, len(bins), B_Y[sp], 0.1, 0.05, "%.1f", left=(plat == "Microarrays"),
              bottom=(sp == "Zma"), xlabels=bins, xrot=-60, xsize=7.5, ysize=7.5)
for sp in SPECIES:
    y0, y1 = B_ROWS[sp]
    strip(317, y0, 338, y1, sp, rot=-90)
fig.text(3 / W, 1 - 429 / H, "B", fontsize=11, ha="left", va="center")
fig.text(15 / W, 1 - 597 / H, "normalized Chi-squared", rotation=90, ha="center",
         va="center", fontsize=9.5)
fig.text(182 / W, 1 - 843 / H, "Number of samples", ha="center", va="center", fontsize=9.5)

# ---------------------------------------------------------------- panel C
C_DATA = {("Microarrays", "Ath"): C_MICRO_ATH, ("Microarrays", "Sly"): C_MICRO_SLY,
          ("Microarrays", "Zma"): C_MICRO_ZMA, ("RNA-seq", "Ath"): C_RNA_ATH,
          ("RNA-seq", "Sly"): C_RNA_SLY, ("RNA-seq", "Zma"): C_RNA_ZMA}
C_COLS = {"Microarrays": (398, 527), "RNA-seq": (533, 662)}
C_ROWS = {"Ath": (457, 503), "Sly": (510, 556), "Zma": (562, 608)}
for plat in PLATFORMS:
    x0, x1 = C_COLS[plat]
    strip(x0, 436, x1, 457, plat)
    for sp in SPECIES:
        y0, y1 = C_ROWS[sp]
        ax = px_axes(x0, y0, x1, y1)
        draw_pathway_panel(ax, C_DATA[(plat, sp)], lw=0.8, dot=2.5)
        style(ax, len(PATHWAYS), (-0.05, 1.05), 0.25, 0.125, "%.2f",
              left=(plat == "Microarrays"), bottom=(sp == "Zma"), xlabels=PATHWAYS,
              xrot=-90, xsize=6.6, ysize=7.2)
for sp in SPECIES:
    y0, y1 = C_ROWS[sp]
    strip(663, y0, 684, y1, sp, rot=-90)
fig.text(337 / W, 1 - 433 / H, "C", fontsize=11, ha="left", va="center")
fig.text(359 / W, 1 - 532 / H, "Average normalized Chi-squared", rotation=90, ha="center",
         va="center", fontsize=8.2)

fig.savefig("out.png", dpi=100, facecolor="white")
